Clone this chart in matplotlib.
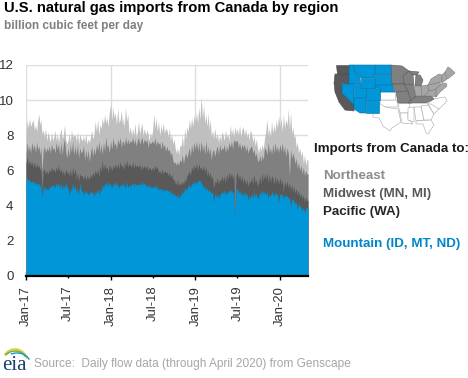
import pandas as pd
import matplotlib
matplotlib.use('Agg')
import matplotlib.pyplot as plt
from matplotlib.patches import Polygon, Arc

plt.rcParams['font.family'] = ['Liberation Sans', 'DejaVu Sans']

# lecturas cada 5 dias, seis por mes (una linea = un mes), ene-17 a abr-20
# son el tope acumulado de cada area, como se lee en el grafico
mountain_top = [
    5.5, 5.6, 5.4, 5.5, 5.3, 5.4,
    5.3, 5.4, 5.2, 5.3, 5.2, 5.3,
    5.1, 5.2, 4.5, 5.0, 5.1, 4.9,
    5.0, 4.9, 5.1, 5.0, 5.2, 5.1,
    5.2, 5.0, 5.3, 5.1, 5.3, 5.0,
    5.3, 4.9, 5.2, 5.0, 5.3, 5.1,
    5.0, 4.6, 5.0, 4.8, 5.3, 4.9,
    5.2, 4.7, 5.0, 4.6, 5.3, 4.9,
    4.8, 4.6, 4.9, 4.7, 4.8, 4.6,
    4.7, 4.9, 4.7, 4.8, 4.5, 4.8,
    4.7, 5.0, 4.6, 4.9, 4.8, 5.2,
    5.0, 5.3, 5.1, 5.4, 5.1, 5.3,
    5.2, 5.0, 5.3, 5.1, 5.4, 5.2,
    5.2, 5.0, 5.2, 5.1, 5.3, 5.1,
    5.2, 5.0, 5.4, 5.0, 5.2, 5.1,
    5.2, 5.3, 5.1, 5.3, 5.2, 5.2,
    5.2, 5.3, 5.1, 5.4, 5.2, 5.3,
    5.1, 5.2, 5.0, 5.2, 5.1, 5.0,
    5.1, 5.0, 5.2, 5.0, 5.1, 4.9,
    5.0, 4.9, 5.0, 4.8, 4.9, 4.9,
    4.9, 4.8, 4.9, 4.7, 4.8, 4.6,
    4.7, 4.6, 4.5, 4.7, 4.4, 4.6,
    4.6, 4.8, 4.7, 5.0, 4.9, 5.0,
    5.1, 5.2, 5.0, 5.3, 5.2, 5.4,
    5.2, 5.4, 5.3, 5.5, 5.4, 5.3,
    5.2, 5.0, 5.1, 4.9, 5.0, 4.8,
    4.9, 4.8, 4.7, 4.8, 4.2, 4.7,
    4.5, 4.7, 4.4, 4.6, 4.7, 4.8,
    4.7, 4.9, 4.6, 4.8, 4.7, 4.9,
    4.8, 4.9, 4.7, 4.8, 3.4, 4.9,
    5.0, 4.7, 4.9, 4.6, 4.8, 4.5,
    4.8, 4.6, 4.7, 4.3, 4.6, 4.4,
    4.7, 4.4, 4.8, 4.5, 4.7, 4.4,
    4.5, 4.8, 4.6, 4.9, 4.7, 4.8,
    4.6, 4.8, 4.4, 4.7, 4.5, 4.8,
    4.7, 4.5, 4.8, 4.6, 4.7, 4.2,
    4.7, 4.6, 4.7, 4.4, 4.6, 4.5,
    4.6, 4.4, 4.5, 3.9, 4.4, 4.3,
    4.3, 4.1, 4.2, 3.8, 4.1, 4.0,
    3.9, 3.7, 3.9, 3.6, 3.8, 3.9,
]
pacific_top = [
    6.4, 6.8, 6.3, 6.6, 6.3, 6.5,
    6.2, 6.5, 6.1, 6.4, 6.2, 6.3,
    6.0, 6.2, 4.9, 6.0, 6.1, 5.8,
    6.0, 5.8, 6.1, 5.9, 6.2, 6.0,
    6.1, 5.9, 6.2, 6.0, 6.3, 5.9,
    6.1, 5.8, 6.0, 5.7, 6.1, 5.9,
    5.9, 5.7, 6.1, 5.6, 6.2, 5.8,
    6.1, 5.5, 5.9, 5.4, 5.8, 5.7,
    5.7, 5.5, 5.8, 5.4, 5.7, 5.6,
    5.5, 5.8, 5.6, 5.9, 5.7, 6.0,
    5.8, 6.1, 5.6, 6.3, 5.9, 6.6,
    6.0, 6.4, 6.1, 6.2, 5.9, 6.3,
    6.2, 6.0, 6.3, 6.1, 6.4, 6.1,
    6.4, 6.1, 6.5, 6.2, 6.3, 6.0,
    6.5, 6.2, 6.6, 6.2, 6.4, 6.3,
    6.2, 6.5, 6.1, 6.4, 6.2, 6.3,
    6.2, 6.4, 6.0, 6.3, 6.1, 6.3,
    6.1, 6.3, 6.0, 6.2, 6.1, 6.0,
    6.2, 6.0, 6.3, 6.1, 6.2, 5.9,
    6.0, 5.8, 6.1, 5.8, 6.0, 5.9,
    5.9, 5.7, 5.9, 5.6, 5.8, 5.5,
    5.5, 5.3, 5.2, 5.5, 5.1, 5.3,
    5.2, 5.4, 5.2, 5.5, 5.4, 5.7,
    5.8, 6.0, 5.7, 6.2, 6.0, 6.3,
    6.1, 6.4, 6.0, 6.4, 6.1, 6.2,
    6.0, 6.3, 5.9, 6.2, 5.7, 6.0,
    5.6, 5.9, 5.5, 5.7, 5.0, 5.4,
    5.3, 5.6, 5.2, 5.5, 5.4, 5.7,
    5.4, 5.7, 5.3, 5.8, 5.5, 5.9,
    5.6, 5.9, 5.5, 5.8, 3.45, 5.7,
    5.9, 5.5, 5.8, 5.4, 5.7, 5.3,
    5.6, 5.2, 5.5, 5.1, 5.4, 5.3,
    5.6, 5.2, 5.8, 5.3, 5.5, 5.1,
    5.3, 5.7, 5.2, 5.9, 5.4, 5.8,
    5.5, 5.9, 5.3, 5.8, 5.3, 5.7,
    5.6, 5.2, 5.7, 5.3, 5.6, 5.2,
    5.6, 5.2, 5.5, 4.8, 5.4, 5.1,
    5.4, 5.0, 5.3, 4.9, 5.2, 4.8,
    5.1, 4.7, 5.0, 4.6, 4.9, 4.5,
    4.7, 4.4, 4.6, 4.2, 4.5, 4.3,
]
midwest_top = [
    7.0, 7.6, 7.1, 7.4, 7.0, 7.6,
    7.2, 7.5, 7.0, 7.6, 7.2, 7.4,
    6.9, 7.3, 5.9, 7.1, 7.4, 7.0,
    7.3, 7.1, 7.4, 7.0, 7.5, 7.2,
    7.3, 7.0, 7.6, 7.2, 7.5, 6.9,
    7.6, 6.9, 7.5, 7.8, 7.1, 6.7,
    7.3, 6.8, 7.5, 7.0, 7.7, 6.9,
    7.4, 6.9, 7.5, 6.7, 7.3, 7.0,
    7.1, 7.4, 6.6, 7.2, 6.7, 7.2,
    6.5, 7.0, 7.4, 6.8, 7.3, 6.9,
    7.5, 7.1, 7.7, 7.0, 7.5, 6.9,
    7.6, 7.1, 7.9, 7.3, 7.5, 7.0,
    7.7, 7.2, 7.9, 7.4, 7.6, 7.2,
    7.8, 7.5, 7.9, 7.3, 7.7, 7.6,
    7.4, 7.9, 7.5, 7.8, 7.5, 7.7,
    7.6, 7.9, 7.5, 7.8, 7.4, 7.7,
    7.9, 7.5, 7.7, 7.9, 7.5, 7.8,
    7.6, 7.8, 7.3, 7.7, 7.5, 7.6,
    7.7, 7.5, 7.9, 7.4, 7.7, 7.5,
    7.6, 7.2, 7.7, 7.3, 7.5, 7.1,
    7.4, 7.1, 7.2, 6.9, 7.0, 6.6,
    6.4, 6.5, 6.3, 6.5, 6.3, 6.6,
    6.5, 6.9, 6.4, 6.8, 7.0, 6.7,
    7.0, 7.3, 6.8, 7.5, 7.0, 7.6,
    7.2, 7.7, 7.1, 7.6, 7.0, 7.7,
    7.1, 7.5, 6.9, 7.7, 7.0, 7.4,
    6.9, 7.3, 6.6, 7.1, 7.2, 6.8,
    7.2, 7.4, 6.9, 7.5, 7.1, 7.3,
    7.2, 7.5, 7.0, 7.4, 7.1, 7.6,
    7.3, 7.7, 7.2, 7.8, 7.6, 7.7,
    7.7, 7.3, 7.6, 7.2, 7.5, 7.3,
    7.5, 7.1, 7.4, 7.0, 7.2, 7.3,
    7.4, 7.0, 7.2, 6.8, 7.0, 6.6,
    6.5, 6.9, 6.5, 6.9, 6.6, 7.3,
    7.2, 6.9, 7.6, 7.0, 7.3, 6.9,
    7.5, 7.0, 7.6, 7.1, 7.4, 7.0,
    7.5, 7.1, 7.6, 7.0, 7.4, 6.8,
    7.3, 7.0, 5.7, 7.2, 6.7, 7.0,
    6.8, 6.4, 6.7, 6.1, 6.5, 6.0,
    6.3, 5.8, 6.2, 5.7, 6.0, 5.8,
]
northeast_top = [
    8.2, 8.9, 8.4, 9.0, 8.5, 8.7,
    8.9, 8.3, 8.6, 8.2, 8.9, 9.2,
    8.6, 8.9, 8.1, 8.3, 7.9, 8.4,
    7.7, 8.2, 7.9, 7.6, 8.2, 7.7,
    7.9, 8.3, 7.7, 8.1, 7.6, 8.0,
    8.4, 7.8, 8.0, 8.6, 7.8, 7.5,
    7.7, 8.1, 7.6, 8.3, 7.9, 8.0,
    8.0, 7.7, 8.2, 7.5, 8.1, 7.8,
    7.7, 8.0, 7.6, 8.1, 7.5, 7.8,
    7.6, 7.9, 8.3, 7.8, 8.0, 8.8,
    8.2, 8.9, 8.0, 8.6, 8.4, 9.0,
    8.6, 9.2, 8.7, 9.0, 8.5, 9.3,
    9.8, 8.9, 9.6, 9.0, 9.3, 8.6,
    9.5, 8.7, 8.9, 9.4, 8.6, 9.0,
    8.4, 9.6, 8.8, 9.2, 8.1, 8.5,
    8.0, 8.4, 8.0, 8.7, 7.9, 8.2,
    8.8, 8.1, 8.4, 8.7, 8.0, 8.4,
    8.0, 8.3, 8.1, 7.7, 8.2, 7.9,
    8.3, 9.2, 8.4, 9.0, 8.2, 8.8,
    8.0, 8.6, 8.2, 8.7, 8.1, 8.4,
    8.3, 7.9, 8.4, 7.7, 8.1, 7.5,
    7.8, 7.3, 7.0, 7.3, 6.9, 7.4,
    7.4, 8.0, 7.3, 8.4, 7.8, 8.5,
    8.2, 8.9, 8.4, 9.0, 8.5, 9.1,
    8.8, 9.3, 8.7, 9.6, 8.9, 10.2,
    9.0, 9.7, 8.7, 9.2, 8.5, 9.3,
    8.3, 8.9, 7.9, 8.3, 7.8, 8.4,
    7.8, 8.1, 7.6, 8.0, 7.7, 8.2,
    8.0, 7.7, 8.3, 7.9, 8.1, 7.7,
    8.6, 8.0, 8.4, 7.9, 8.5, 8.1,
    8.4, 8.0, 8.6, 7.9, 8.3, 8.5,
    8.0, 8.4, 7.9, 8.2, 7.7, 8.3,
    8.1, 7.6, 8.0, 7.4, 7.8, 7.3,
    7.0, 7.4, 7.1, 7.5, 7.2, 7.8,
    8.2, 8.9, 8.0, 8.4, 7.9, 8.8,
    8.1, 8.6, 8.2, 8.9, 8.4, 9.1,
    8.5, 9.0, 8.2, 9.2, 8.4, 8.9,
    8.6, 9.5, 8.3, 9.3, 8.1, 8.5,
    7.9, 8.0, 7.3, 7.6, 7.0, 7.3,
    6.8, 7.1, 6.4, 6.9, 6.3, 6.6,
]

meses = pd.date_range('2017-01-01', '2020-04-01', freq='MS')
fechas = []
for m in meses:
    for dia in [0, 5, 10, 15, 20, 25]:
        fechas.append(m + pd.Timedelta(days=dia))
fechas.append(pd.Timestamp('2020-05-01'))

tick_fechas = ['2017-01-01', '2017-07-01', '2018-01-01', '2018-07-01',
               '2019-01-01', '2019-07-01', '2020-01-01']
tick_labels = ['Jan-17', 'Jul-17', 'Jan-18', 'Jul-18', 'Jan-19', 'Jul-19', 'Jan-20']
y_ticks = [0, 2, 4, 6, 8, 10, 12]

leyenda = [('Northeast', 176, '#8c8c8c'),
           ('Midwest (MN, MI)', 194, '#595959'),
           ('Pacific (WA)', 212, '#262626'),
           ('Mountain (ID, MT, ND)', 244, '#0085c8')]

# mapa del inset, en pixeles de la figura
estados_pacific = [
    [(336, 65), (349, 65), (349, 74), (337, 74)],
    [(335, 74), (349, 74), (349, 84), (334, 83)],
    [(334, 83), (342, 84), (342, 93), (354, 105), (354, 111), (345, 110), (339, 102), (335, 92)],
]
estados_mountain = [
    [(349, 65), (353, 65), (356, 73), (360, 78), (361, 84), (349, 84)],
    [(353, 65), (375, 65), (375, 78), (361, 78), (356, 73)],
    [(375, 65), (391, 65), (392, 75), (375, 75)],
    [(375, 75), (392, 75), (392, 85), (375, 85)],
    [(361, 78), (375, 78), (375, 88), (361, 88)],
    [(375, 85), (392, 85), (395, 92), (380, 92), (380, 88), (375, 88)],
    [(342, 84), (354, 84), (354, 105), (342, 93)],
    [(354, 84), (361, 84), (361, 88), (366, 88), (366, 98), (354, 98)],
    [(366, 88), (380, 88), (380, 100), (366, 100)],
    [(354, 98), (366, 98), (366, 113), (360, 113), (354, 109)],
    [(366, 100), (379, 100), (379, 113), (366, 113)],
]
estados_midwest = [
    [(391, 65), (402, 66), (409, 71), (403, 76), (404, 84), (392, 84)],
    [(403, 76), (409, 71), (413, 75), (414, 85), (404, 84)],
    [(392, 84), (404, 84), (408, 91), (396, 92)],
    [(396, 92), (408, 91), (412, 103), (398, 103)],
    [(404, 84), (413, 85), (416, 96), (411, 102), (408, 91)],
    [(409, 71), (419, 72), (417, 75), (413, 75)],
    [(416, 75), (420, 75), (423, 80), (421, 86), (415, 86)],
    [(408, 103), (416, 96), (421, 96), (431, 96), (434, 99), (426, 103)],
]
estados_northeast = [
    [(414, 86), (421, 86), (422, 96), (416, 96)],
    [(421, 86), (428, 85), (429, 93), (424, 96), (422, 96)],
    [(428, 85), (440, 82), (441, 89), (429, 91)],
    [(424, 96), (429, 91), (436, 89), (436, 97), (431, 96)],
    [(428, 85), (431, 79), (439, 74), (442, 75), (442, 82), (440, 82)],
    [(442, 75), (445, 72), (447, 79), (442, 83)],
    [(436, 89), (441, 84), (446, 83), (447, 86), (440, 92), (436, 97)],
    [(445, 72), (448, 67), (451, 69), (455, 73), (449, 78), (447, 79)],
]
estados_sur = [
    [(380, 100), (396, 100), (398, 103), (398, 107), (380, 107), (380, 103)],
    [(380, 92), (395, 92), (396, 100), (380, 100)],
    [(373, 113), (379, 113), (379, 103), (385, 107), (398, 109), (401, 122), (392, 128), (390, 131), (383, 126), (379, 118), (373, 117)],
    [(398, 104), (410, 103), (408, 113), (400, 113)],
    [(400, 113), (408, 113), (408, 119), (413, 124), (402, 123)],
    [(408, 108), (414, 107), (414, 122), (408, 120)],
    [(414, 107), (421, 107), (424, 120), (416, 121)],
    [(421, 106), (428, 105), (434, 114), (431, 120), (424, 120)],
    [(428, 104), (436, 103), (439, 109), (434, 114)],
    [(434, 99), (445, 97), (447, 101), (439, 109), (431, 104), (427, 104)],
    [(416, 121), (431, 120), (434, 125), (428, 134), (426, 133), (423, 124), (416, 124)],
]

fig = plt.figure(figsize=(4.68, 3.78), dpi=100)
ax = fig.add_axes([26 / 468, 1 - 276 / 378, 282 / 468, 211 / 378])

serie = [(northeast_top, '#bfbfbf'), (midwest_top, '#808080'),
         (pacific_top, '#595959'), (mountain_top, '#0096d7')]
for tope, color in serie:
    ax.fill_between(fechas, tope + [tope[-1]], 0, color=color, lw=0, zorder=2)

ax.set_xlim(pd.Timestamp('2017-01-01'), pd.Timestamp('2020-05-01'))
ax.set_ylim(0, 12)
ax.set_yticks(y_ticks)
ax.set_xticks([pd.Timestamp(t) for t in tick_fechas])
ax.set_xticklabels(tick_labels, rotation=90, fontsize=9.4, color='#333333')
ax.tick_params(axis='y', length=0, labelsize=9.6, labelcolor='#333333', pad=9)
ax.tick_params(axis='x', length=4, width=1, color='black', pad=5, direction='inout')
for i, t in enumerate(ax.xaxis.get_major_ticks()):
    if tick_labels[i].startswith('Jan'):
        t.tick1line.set_markersize(6)
    else:
        t.tick1line.set_markersize(3)

ax.grid(axis='y', color='#dddddd', lw=1, zorder=0)
for t, lab in zip(tick_fechas, tick_labels):
    if lab.startswith('Jan'):
        ax.axvline(pd.Timestamp(t), color='#dddddd', lw=1, zorder=1)
ax.set_axisbelow(True)
for lado in ['top', 'left', 'right']:
    ax.spines[lado].set_visible(False)
ax.spines['bottom'].set_linewidth(1.6)
ax.spines['bottom'].set_zorder(5)

fig.text(4 / 468, 1 - 8 / 378, 'U.S. natural gas imports from Canada by region',
         fontsize=10.6, fontweight='bold', color='black', va='center')
fig.text(4 / 468, 1 - 26 / 378, 'billion cubic feet per day',
         fontsize=8.5, fontweight='bold', color='#7f7f7f', va='center')

# capa en pixeles para mapa, leyenda y logo
capa = fig.add_axes([0, 0, 1, 1], facecolor='none')
capa.set_xlim(0, 468)
capa.set_ylim(378, 0)
capa.axis('off')

for grupo, color, borde in [(estados_sur, 'white', '#a8a8a8'),
                            (estados_pacific, '#595959', '#4a4a4a'),
                            (estados_mountain, '#0096d7', '#0a6fa5'),
                            (estados_midwest, '#808080', '#5a5a5a'),
                            (estados_northeast, '#a6a6a6', '#7d7d7d')]:
    for est in grupo:
        capa.add_patch(Polygon(est, closed=True, fc=color, ec=borde, lw=0.4))

capa.text(314, 149, 'Imports from Canada to:', fontsize=9.6, fontweight='bold',
          color='#1a1a1a', va='center')
for texto, y, color in leyenda:
    capa.text(323, y, texto, fontsize=9.6, fontweight='bold', color=color, va='center')

capa.add_patch(Arc((15, 361), 24, 24, theta1=200, theta2=340, color='#e8c93a', lw=1.2, angle=10))
capa.add_patch(Arc((15, 362), 24, 22, theta1=215, theta2=335, color='#6db33f', lw=1.2))
capa.add_patch(Arc((17, 363), 26, 20, theta1=235, theta2=345, color='#1b9ad6', lw=1))
capa.text(2, 366, 'eia', fontsize=15, family='Liberation Serif', color='#17406d', va='center')
capa.text(34, 364, 'Source:  Daily flow data (through April 2020) from Genscape',
          fontsize=8.6, color='#a6a6a6', va='center')

fig.savefig('out.png', dpi=100)
